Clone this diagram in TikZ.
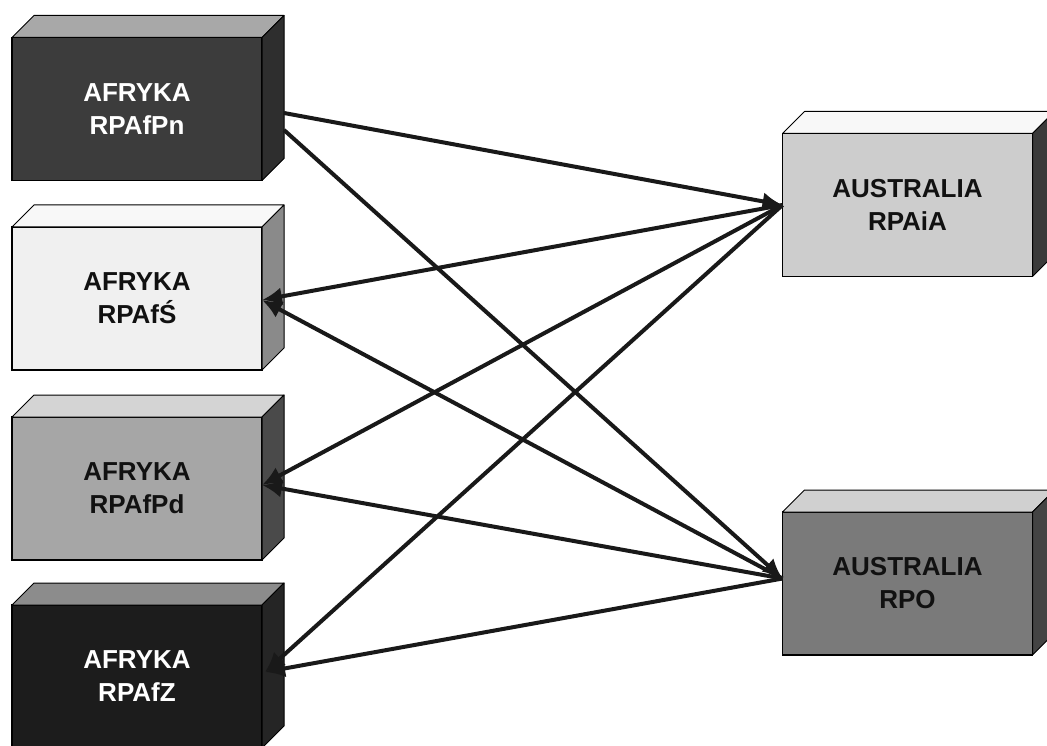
\documentclass[tikz,border=0pt]{standalone}
\usepackage{fontspec}
\setmainfont{Liberation Sans}
\usetikzlibrary{calc,arrows.meta}
\tikzset{
  x=1pt, y=-1pt,
  cubefront/.style={draw=black, line width=1.5pt, minimum width=250pt, minimum height=143pt,
    inner sep=0pt, outer sep=0pt, align=center, font=\fontsize{26}{33}\selectfont\bfseries},
  cubeface/.style={draw=black, line width=1pt, line join=round},
  link/.style={draw=black!90, line width=4pt, -{Latex[length=20pt,width=18pt]}},
}
\newcommand\myCube[8]{%
  \node[cubefront, fill=#4, text=#7] (#1) at (#2,#3) {#8};
  \path[cubeface, fill=#5] (#1.north west) -- ++(22,-22) -- ($(#1.north east)+(22,-22)$) -- (#1.north east) -- cycle;
  \path[cubeface, fill=#6] (#1.north east) -- ++(22,-22) -- ($(#1.south east)+(22,-22)$) -- (#1.south east) -- cycle;
}
\definecolor{fA}{HTML}{3C3C3C}\definecolor{tA}{HTML}{A8A8A8}\definecolor{sA}{HTML}{2E2E2E}
\definecolor{fB}{HTML}{F0F0F0}\definecolor{tB}{HTML}{F8F8F8}\definecolor{sB}{HTML}{8A8A8A}
\definecolor{fC}{HTML}{A6A6A6}\definecolor{tC}{HTML}{D4D4D4}\definecolor{sC}{HTML}{4A4A4A}
\definecolor{fD}{HTML}{1C1C1C}\definecolor{tD}{HTML}{8C8C8C}\definecolor{sD}{HTML}{252525}
\definecolor{fE}{HTML}{CDCDCD}\definecolor{tE}{HTML}{F8F8F8}\definecolor{sE}{HTML}{3A3A3A}
\definecolor{fF}{HTML}{7A7A7A}\definecolor{tF}{HTML}{D0D0D0}\definecolor{sF}{HTML}{444444}
\definecolor{txt}{HTML}{111111}
\begin{document}
\begin{tikzpicture}
\useasboundingbox[fill=white] (0,0) rectangle (1047,746);
\myCube{pn}{137}{109}{fA}{tA}{sA}{white}{AFRYKA\\RPAfPn}
\myCube{sl}{137}{298.5}{fB}{tB}{sB}{txt}{AFRYKA\\RPAfŚ}
\myCube{pd}{137}{488.5}{fC}{tC}{sC}{txt}{AFRYKA\\RPAfPd}
\myCube{zz}{137}{676.5}{fD}{tD}{sD}{white}{AFRYKA\\RPAfZ}
\myCube{ia}{907.5}{205}{fE}{tE}{sE}{txt}{AUSTRALIA\\RPAiA}
\myCube{ro}{907.5}{583.5}{fF}{tF}{sF}{txt}{AUSTRALIA\\RPO}
\coordinate (pn1) at ($(pn.east)+(22,4)$);
\coordinate (pn2) at ($(pn.east)+(22,21)$);
\coordinate (iaT) at (ia.west);
\coordinate (roT) at ($(ro.west)+(0,-5)$);
\coordinate (slT) at ($(sl.east)+(0,1.5)$);
\coordinate (pdT) at ($(pd.east)+(0,-3.5)$);
\coordinate (zzT) at ($(zz.east)+(3,-4.5)$);
\draw[link] (pn1) -- (iaT);
\draw[link] (pn2) -- (roT);
\draw[link] (iaT) -- (slT);
\draw[link] (roT) -- (slT);
\draw[link] (iaT) -- (pdT);
\draw[link] (roT) -- (pdT);
\draw[link] (iaT) -- (zzT);
\draw[link] (roT) -- (zzT);
\end{tikzpicture}
\end{document}
